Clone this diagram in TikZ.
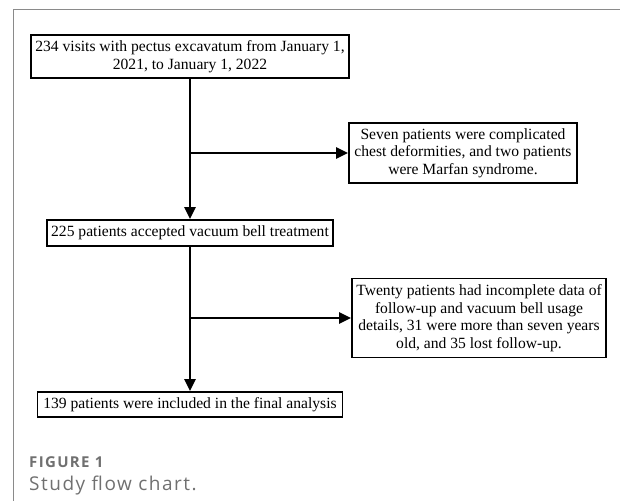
\documentclass[tikz,border=0pt]{standalone}
\usepackage{fontspec}
\setmainfont{Liberation Serif}
\newfontfamily\figfont[LetterSpace=9]{Open Sans}
\newfontfamily\capfont[LetterSpace=8]{Open Sans}
\usepackage{tikz}
\usetikzlibrary{arrows.meta}

\definecolor{framegray}{HTML}{8A8A8A}
\definecolor{capgray}{HTML}{707070}

\tikzset{
  flowbox/.style={draw, line width=1.8pt, align=center, inner sep=0pt,
    font=\fontsize{15.6}{17.5}\selectfont},
  flowarrow/.style={line width=2.6pt, -{Triangle[length=12pt,width=11pt]}},
}

\begin{document}
\begin{tikzpicture}[x=1pt, y=-1pt]
        \useasboundingbox (0,0) rectangle (620,501);
        \draw [framegray, line width=1pt] (620,9) -- (13,9) -- (13,501);

        \node [flowbox, minimum width=318pt, minimum height=43pt] (visits) at (190,56.5)
          {234 visits with pectus excavatum from January 1,\\2021, to January 1, 2022};
        \node [flowbox, minimum width=228pt, minimum height=60pt] (excl1) at (463,153)
          {Seven patients were complicated\\chest deformities, and two patients\\were Marfan syndrome.};
        \node [flowbox, minimum width=286pt, minimum height=26pt] (treated) at (190,233)
          {225 patients accepted vacuum bell treatment};
        \node [flowbox, minimum width=254pt, minimum height=79pt] (excl2) at (479,318)
          {Twenty patients had incomplete data of\\follow-up and vacuum bell usage\\details, 31 were more than seven years\\old, and 35 lost follow-up.};
        \node [flowbox, minimum width=305pt, minimum height=25pt] (final) at (190,404.5)
          {139 patients were included in the final analysis};

        \coordinate (b1) at (visits.south |- excl1.west);
        \coordinate (b2) at (treated.south |- excl2.west);

        \draw [line width=2.6pt] (visits) -- (b1);
        \draw [flowarrow] (b1) -- (treated);
        \draw [flowarrow] (b1) -- (excl1);
        \draw [line width=2.6pt] (treated) -- (b2);
        \draw [flowarrow] (b2) -- (final);
        \draw [flowarrow] (b2) -- (excl2);

        \node [anchor=base west, inner sep=0pt, text=capgray, font=\figfont\fontsize{15}{17}\selectfont\bfseries] (fig) at (29,467) {FIGURE 1};
        \node [anchor=base west, inner sep=0pt, text=capgray, font=\capfont\fontsize{19}{21}\selectfont] (cap) at (29,490) {Study flow chart.};
      \end{tikzpicture}
\end{document}
